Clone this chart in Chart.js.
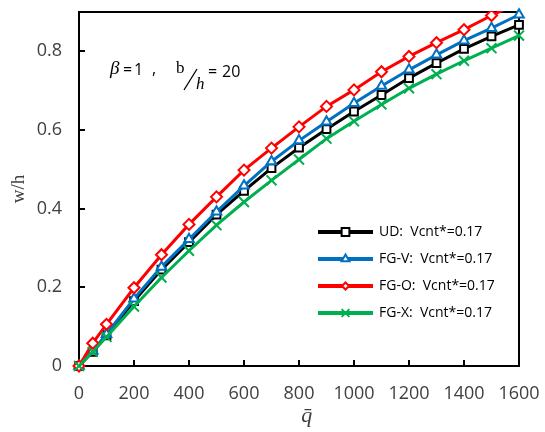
<!DOCTYPE html>
<html>
<head>
<meta charset="utf-8">
<script src="https://cdn.jsdelivr.net/npm/chart.js@4/dist/chart.umd.min.js"></script>
<style>
  html, body { margin: 0; padding: 0; background: #ffffff; }
  #wrap { width: 545px; height: 432px; position: relative; }
</style>
</head>
<body>
<div id="wrap"><canvas id="c" width="545" height="432"></canvas></div>
<script>
// ---- data ----
const qValues = [0, 50, 100, 200, 300, 400, 500, 600, 700, 800, 900, 1000, 1100, 1200, 1300, 1400, 1500, 1600];
const udValues  = [0, 0.036, 0.078, 0.165, 0.245, 0.315, 0.385, 0.445, 0.503, 0.555, 0.602, 0.647, 0.689, 0.732, 0.770, 0.806, 0.838, 0.867];
const fgvValues = [0, 0.039, 0.081, 0.171, 0.252, 0.322, 0.392, 0.458, 0.520, 0.573, 0.621, 0.668, 0.712, 0.753, 0.791, 0.827, 0.859, 0.893];
const fgoValues = [0, 0.058, 0.106, 0.199, 0.283, 0.360, 0.430, 0.498, 0.554, 0.608, 0.660, 0.702, 0.748, 0.787, 0.822, 0.855, 0.891, 0.925];
const fgxValues = [0, 0.036, 0.074, 0.151, 0.225, 0.293, 0.358, 0.417, 0.472, 0.525, 0.578, 0.622, 0.665, 0.706, 0.742, 0.776, 0.808, 0.840];
const seriesLabels = ['UD:  Vcnt*=0.17', 'FG-V:  Vcnt*=0.17', 'FG-O:  Vcnt*=0.17', 'FG-X:  Vcnt*=0.17'];
const xTickValues = [0, 200, 400, 600, 800, 1000, 1200, 1400, 1600];
const yTickValues = [0, 0.2, 0.4, 0.6, 0.8];

const toPts = vals => qValues.map((q, i) => ({x: q, y: vals[i]}));

const styles = [
  {color: '#000000', pointStyle: 'rect',    radius: 5.5, legendRadius: 5.5, fill: '#ffffff'},
  {color: '#0070C0', pointStyle: 'triangle',radius: 5.5, legendRadius: 4.5, fill: '#ffffff'},
  {color: '#FF0000', pointStyle: 'rectRot', radius: 5.5, legendRadius: 3.5, fill: '#ffffff'},
  {color: '#00B050', pointStyle: 'crossRot',radius: 7,   legendRadius: 5.5, fill: '#ffffff'}
];
const allValues = [udValues, fgvValues, fgoValues, fgxValues];

const datasets = allValues.map((vals, i) => ({
  label: seriesLabels[i],
  data: toPts(vals),
  borderColor: styles[i].color,
  backgroundColor: styles[i].fill,
  borderWidth: 3,
  pointStyle: styles[i].pointStyle,
  pointRadius: styles[i].radius,
  pointBorderWidth: 2,
  pointBackgroundColor: styles[i].fill,
  pointBorderColor: styles[i].color,
  tension: 0,
  order: 4 - i,
  clip: i === 2 ? {left: 10, right: 10, top: 1, bottom: 10} : 10
}));

const frame = {
  id: 'frame',
  beforeDatasetsDraw(chart) {
    const {ctx, chartArea: a, scales} = chart;
    ctx.save();
    ctx.strokeStyle = '#000';
    ctx.lineWidth = 2;
    ctx.strokeRect(a.left, a.top, a.right - a.left, a.bottom - a.top);
    // inside tick marks
    ctx.lineWidth = 2;
    ctx.beginPath();
    xTickValues.forEach(v => {
      const px = Math.round(scales.x.getPixelForValue(v));
      ctx.moveTo(px, a.bottom);
      ctx.lineTo(px, a.bottom - 6);
    });
    yTickValues.forEach(v => {
      const py = Math.round(scales.y.getPixelForValue(v));
      ctx.moveTo(a.left, py);
      ctx.lineTo(a.left + 6, py);
    });
    ctx.stroke();
    ctx.restore();
  }
};

const legendAndNote = {
  id: 'legendAndNote',
  afterDraw(chart) {
    const {ctx} = chart;
    ctx.save();
    // legend
    const rowY = [232, 259, 286, 313];
    const x0 = 318, x1 = 373, tx = 379;
    seriesLabels.forEach((lab, i) => {
      const y = rowY[i];
      ctx.strokeStyle = styles[i].color;
      ctx.lineWidth = 4;
      ctx.beginPath();
      ctx.moveTo(x0, y);
      ctx.lineTo(x1, y);
      ctx.stroke();
      ctx.fillStyle = styles[i].fill;
      ctx.strokeStyle = styles[i].color;
      ctx.lineWidth = 2;
      Chart.helpers.drawPoint(ctx, {pointStyle: styles[i].pointStyle, radius: styles[i].legendRadius, rotation: 0, borderWidth: 2}, (x0 + x1) / 2, y);
      ctx.fillStyle = '#000';
      ctx.font = '14px "Open Sans"';
      ctx.textBaseline = 'middle';
      ctx.textAlign = 'left';
      ctx.fillText(lab, tx, y);
    });
    // annotation: beta = 1 , b/h = 20
    ctx.fillStyle = '#000';
    ctx.textBaseline = 'alphabetic';
    ctx.font = 'italic 19px "Liberation Serif"';
    ctx.fillText('\u03B2', 110, 74);
    ctx.font = '16px "Open Sans"';
    ctx.fillText('=', 123, 75);
    ctx.fillText('1', 134, 75);
    ctx.fillText(',', 152, 74);
    ctx.font = '17px "Liberation Serif"';
    ctx.fillText('b', 176, 73);
    ctx.strokeStyle = '#000';
    ctx.lineWidth = 1.3;
    ctx.beginPath();
    ctx.moveTo(184, 90);
    ctx.lineTo(197, 69);
    ctx.stroke();
    ctx.font = 'italic 17px "Liberation Serif"';
    ctx.fillText('h', 196, 89);
    ctx.font = '16px "Open Sans"';
    ctx.fillText('=', 208, 77);
    ctx.fillText('20', 222, 77);
    ctx.restore();
  }
};

const hiddenGrid = {display: true, drawOnChartArea: false, drawTicks: true, tickLength: 17, color: 'rgba(0,0,0,0)'};

new Chart(document.getElementById('c'), {
  type: 'line',
  data: {datasets},
  options: {
    responsive: false,
    animation: false,
    layout: {padding: {left: 0, right: 26, top: 12, bottom: 0}},
    plugins: {legend: {display: false}, tooltip: {enabled: false}},
    scales: {
      x: {
        type: 'linear', min: 0, max: 1600,
        grid: hiddenGrid,
        border: {display: false},
        ticks: {stepSize: 200, padding: 0, color: '#404040', font: {family: 'Open Sans', size: 18}, maxRotation: 0,
          callback: v => String(v)},
        title: {display: true, text: '\u2002\u2009q\u0304', color: '#404040', font: {family: 'Liberation Serif', size: 22, style: 'italic'}, padding: {top: 0, bottom: 3}},
        afterFit(s) { s.height = 66; }
      },
      y: {
        type: 'linear', min: 0, max: 0.9,
        grid: hiddenGrid,
        border: {display: false},
        ticks: {stepSize: 0.2, padding: 0, color: '#404040', font: {family: 'Open Sans', size: 18},
          callback: v => v === 0 ? '0' : v.toFixed(1)},
        afterBuildTicks(s) { s.ticks = s.ticks.filter(t => t.value <= 0.8001); },
        title: {display: true, text: 'w/h', color: '#404040', font: {family: 'Liberation Serif', size: 19}, padding: {top: 8, bottom: 0}},
        afterFit(s) { s.width = 79; }
      }
    }
  },
  plugins: [frame, legendAndNote]
});
</script>
</body>
</html>
